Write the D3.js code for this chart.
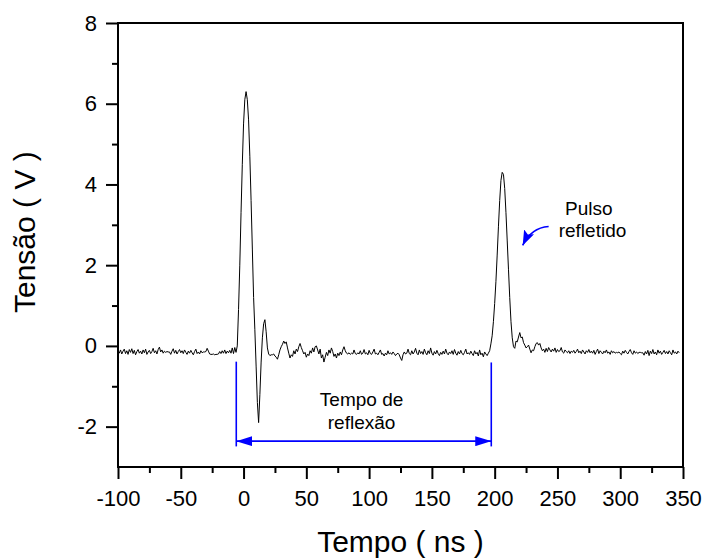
<!DOCTYPE html>
<html>
<head>
<meta charset="utf-8">
<script src="https://cdn.jsdelivr.net/npm/d3@7"></script>
<style>
  body { margin: 0; background: #fff; }
  svg { font-family: 'Liberation Sans', Arial, sans-serif; }
  .eje text { font-size: 22px; fill: #000; }
  .eje line { stroke: #000; stroke-width: 2px; }
  .eje path { display: none; }
</style>
</head>
<body>
<div id="graf"></div>
<script>
// I. Dados
// linha de base antes do pulso: t = -100 .. -6 ns, passo 1 ns
baseAntes = [
  -0.12,-0.18,-0.10,-0.20,-0.13,-0.08,-0.19,-0.12,-0.21,-0.09,
  -0.16,-0.07,-0.19,-0.11,-0.22,-0.14,-0.09,-0.18,-0.13,-0.20,
  -0.10,-0.17,-0.08,-0.21,-0.15,-0.11,-0.19,-0.14,-0.06,-0.17,
  -0.12,-0.20,-0.09,-0.03,-0.15,-0.10,-0.18,-0.13,-0.16,-0.14,
  -0.15,-0.15,-0.21,-0.13,-0.07,-0.18,-0.11,-0.20,-0.14,-0.09,
  -0.17,-0.12,-0.19,-0.10,-0.16,-0.21,-0.13,-0.18,-0.11,-0.17,
  -0.22,-0.14,-0.08,-0.19,-0.15,-0.20,-0.12,-0.17,-0.15,-0.15,
  -0.14,-0.06,-0.13,-0.20,-0.21,-0.21,-0.20,-0.22,-0.21,-0.21,
  -0.20,-0.14,-0.19,-0.12,-0.18,-0.10,-0.19,-0.13,-0.17,-0.11,
  -0.18,-0.05,-0.19,-0.04,-0.16
]
// pulso incidente: t = -5 .. 22 ns
pulsoIncidente = [
  0.00, 0.90, 2.00, 3.30, 4.50, 5.50, 6.10, 6.30, 6.10, 5.60,
  4.70, 3.60, 2.40, 1.20, 0.40,-0.50,-1.40,-1.90,-1.20,-0.40,
  0.20, 0.55, 0.65, 0.35,-0.05,-0.20,-0.24,-0.22
]
// entre os pulsos: t = 23 .. 195 ns
baseMeio = [
  -0.22,-0.20,-0.25,-0.28,-0.33,-0.22,-0.10,-0.02, 0.04, 0.12,
   0.06, 0.10,-0.05,-0.18,-0.30,-0.22,-0.26,-0.12,-0.20,-0.08,
  -0.14,-0.02, 0.06,-0.04,-0.12,-0.20,-0.16,-0.28,-0.20,-0.24,
  -0.12,-0.18,-0.05,-0.15,-0.02, 0.00,-0.10,-0.20,-0.08,-0.30,
  -0.22,-0.40,-0.28,-0.16,-0.24,-0.10,-0.18,-0.05,-0.14,-0.26,
  -0.20,-0.30,-0.18,-0.24,-0.15,-0.22,-0.10,-0.02,-0.12,-0.18,
  -0.20,-0.17,-0.21,-0.18,-0.20,-0.10,-0.19,-0.21,-0.17,-0.20,
  -0.12,-0.21,-0.18,-0.09,-0.20,-0.17,-0.22,-0.11,-0.19,-0.21,
  -0.15,-0.08,-0.20,-0.18,-0.22,-0.16,-0.10,-0.21,-0.19,-0.25,
  -0.18,-0.22,-0.12,-0.20,-0.17,-0.21,-0.15,-0.19,-0.24,-0.20,
  -0.18,-0.22,-0.30,-0.36,-0.22,-0.15,-0.20,-0.18,-0.08,-0.19,
  -0.22,-0.12,-0.20,-0.15,-0.06,-0.18,-0.22,-0.10,-0.19,-0.14,
  -0.21,-0.08,-0.17,-0.22,-0.12,-0.19,-0.05,-0.18,-0.23,-0.14,
  -0.20,-0.11,-0.19,-0.24,-0.16,-0.21,-0.13,-0.20,-0.08,-0.18,
  -0.22,-0.15,-0.19,-0.12,-0.21,-0.09,-0.18,-0.23,-0.14,-0.20,
  -0.11,-0.19,-0.22,-0.16,-0.08,-0.20,-0.17,-0.21,-0.13,-0.19,
  -0.24,-0.12,-0.20,-0.16,-0.25,-0.10,-0.22,-0.18,-0.27,-0.15,
  -0.20,-0.24,-0.18
]
// pulso refletido: t = 196 .. 225 ns
pulsoRefletido = [
  -0.12, 0.05, 0.25, 0.60, 1.05, 1.60, 2.25, 2.95, 3.60, 4.10,
   4.30, 4.25, 3.90, 3.30, 2.60, 1.90, 1.20, 0.60, 0.20,-0.02,
  -0.06, 0.12, 0.10, 0.22, 0.33, 0.20, 0.22, 0.08, 0.02,-0.05
]
// depois do pulso refletido: t = 226 .. 347 ns
baseDepois = [
  -0.02, 0.02,-0.08,-0.17,-0.10,-0.12,-0.02, 0.06, 0.08, 0.02,
   0.06,-0.05,-0.12,-0.08,-0.16,-0.06,-0.14,-0.04,-0.10,-0.15,
  -0.08,-0.13,-0.05,-0.16,-0.09,-0.14,-0.12,-0.04,-0.15,-0.18,
  -0.10,-0.14,-0.17,-0.12,-0.19,-0.13,-0.16,-0.11,-0.18,-0.14,
  -0.08,-0.17,-0.13,-0.19,-0.10,-0.15,-0.20,-0.12,-0.16,-0.09,
  -0.17,-0.13,-0.18,-0.11,-0.21,-0.14,-0.08,-0.19,-0.12,-0.16,
  -0.20,-0.13,-0.17,-0.10,-0.18,-0.15,-0.21,-0.12,-0.17,-0.14,
  -0.18,-0.16,-0.17,-0.15,-0.19,-0.22,-0.13,-0.18,-0.11,-0.16,
  -0.20,-0.14,-0.09,-0.17,-0.21,-0.12,-0.18,-0.15,-0.19,-0.16,
  -0.16,-0.17,-0.17,-0.23,-0.14,-0.20,-0.11,-0.24,-0.13,-0.19,
  -0.09,-0.20,-0.15,-0.22,-0.10,-0.18,-0.13,-0.21,-0.16,-0.11,
  -0.19,-0.14,-0.20,-0.12,-0.17,-0.22,-0.10,-0.18,-0.15,-0.20,
  -0.13,-0.17
]
// inicio de cada trecho (ns), amostras a cada 1 ns
trechos = [
  { t0: -100, v: baseAntes },
  { t0: -5,   v: pulsoIncidente },
  { t0: 23,   v: baseMeio },
  { t0: 196,  v: pulsoRefletido },
  { t0: 226,  v: baseDepois }
]

ticksX = [-100, -50, 0, 50, 100, 150, 200, 250, 300, 350]
ticksXmenor = [-75, -25, 25, 75, 125, 175, 225, 275, 325]
ticksY = [-2, 0, 2, 4, 6, 8]
ticksYmenor = [-1, 1, 3, 5, 7]

// anotacoes (unidades dos dados)
inicioReflexao = -5.8
fimReflexao = 197.3
nivelSeta = -2.36

// II. Configuracao
ancho_total = 704
alto_total = 559
margins = { top: 23, left: 118, right: 21, bottom: 92 }
ancho = ancho_total - margins.left - margins.right
alto = alto_total - margins.top - margins.bottom

svg = d3.select('#graf').append('svg')
        .attr('width', ancho_total)
        .attr('height', alto_total)

g = svg.append('g')
       .attr('transform', `translate(${ margins.left }, ${ margins.top })`)

x = d3.scaleLinear().domain([-100, 350]).range([0, ancho])
y = d3.scaleLinear().domain([-3, 8]).range([alto, 0])

// marcadores de seta
defs = svg.append('defs')
defs.append('marker')
    .attr('id', 'seta')
    .attr('viewBox', '0 0 16 10')
    .attr('refX', 16).attr('refY', 5)
    .attr('markerWidth', 16).attr('markerHeight', 10)
    .attr('markerUnits', 'userSpaceOnUse')
    .attr('orient', 'auto-start-reverse')
  .append('path')
    .attr('d', 'M0,0 L16,5 L0,10 Z')
    .attr('fill', '#0000ff')
defs.append('marker')
    .attr('id', 'setaCurva')
    .attr('viewBox', '0 0 15 11')
    .attr('refX', 15).attr('refY', 5.5)
    .attr('markerWidth', 15).attr('markerHeight', 11)
    .attr('markerUnits', 'userSpaceOnUse')
    .attr('orient', 'auto')
  .append('path')
    .attr('d', 'M0,0 L15,5.5 L0,11 L3,5.5 Z')
    .attr('fill', '#0000ff')

// III. Eixos
yAxisGroup = g.append('g').attr('class', 'eje')
yAxisGroup.call(d3.axisLeft(y).tickValues(ticksY).tickSize(12).tickPadding(9)
            .tickFormat(d => String(d)))
g.append('g').attr('class', 'eje')
 .call(d3.axisLeft(y).tickValues(ticksYmenor).tickSize(6).tickFormat(''))

xAxisGroup = g.append('g').attr('class', 'eje')
              .attr('transform', `translate(0, ${ alto })`)
xAxisGroup.call(d3.axisBottom(x).tickValues(ticksX).tickSize(12).tickPadding(11)
            .tickFormat(d => String(d)))
g.append('g').attr('class', 'eje')
 .attr('transform', `translate(0, ${ alto })`)
 .call(d3.axisBottom(x).tickValues(ticksXmenor).tickSize(6).tickFormat(''))

// moldura
g.append('rect')
 .attr('width', ancho).attr('height', alto)
 .attr('fill', 'none').attr('stroke', '#000').attr('stroke-width', 2)

// IV. Curva
pontos = []
trechos.forEach(tr => {
  tr.v.forEach((v, i) => pontos.push({ t: tr.t0 + i, v: v }))
})

linha = d3.line().x(d => x(d.t)).y(d => y(d.v))
g.append('path')
 .datum(pontos)
 .attr('d', linha)
 .attr('fill', 'none')
 .attr('stroke', '#000')
 .attr('stroke-width', 1)

// V. Anotacoes
azul = '#0000ff'
ga = g.append('g').attr('stroke', azul).attr('stroke-width', 1.6)
ga.append('line')
  .attr('x1', x(inicioReflexao)).attr('x2', x(inicioReflexao))
  .attr('y1', y(-0.39)).attr('y2', y(-2.49))
ga.append('line')
  .attr('x1', x(fimReflexao)).attr('x2', x(fimReflexao))
  .attr('y1', y(-0.41)).attr('y2', y(-2.49))
ga.append('line')
  .attr('x1', x(inicioReflexao)).attr('x2', x(fimReflexao))
  .attr('y1', y(nivelSeta)).attr('y2', y(nivelSeta))
  .attr('marker-start', 'url(#seta)')
  .attr('marker-end', 'url(#seta)')

ga.append('path')
  .attr('d', `M${ x(243) },${ y(2.96) } Q${ x(229) },${ y(2.93) } ${ x(222.3) },${ y(2.49) }`)
  .attr('fill', 'none')
  .attr('marker-end', 'url(#setaCurva)')

texto = g.append('g').style('font-size', '19px').attr('fill', '#000')
texto.append('text')
     .attr('x', x(94)).attr('y', y(-1.5))
     .attr('text-anchor', 'middle')
     .text('Tempo de')
texto.append('text')
     .attr('x', x(94)).attr('y', y(-2.07))
     .attr('text-anchor', 'middle')
     .text('reflexão')
texto.append('text')
     .attr('x', x(256)).attr('y', y(3.25))
     .text('Pulso')
texto.append('text')
     .attr('x', x(251)).attr('y', y(2.71))
     .text('refletido')

// titulos dos eixos
svg.append('text')
   .attr('x', margins.left + ancho / 2)
   .attr('y', 552)
   .attr('text-anchor', 'middle')
   .style('font-size', '30px')
   .text('Tempo ( ns )')

svg.append('text')
   .attr('transform', 'translate(35, 313) rotate(-90)')
   .attr('text-anchor', 'start')
   .style('font-size', '30px')
   .text('Tensão ( V )')
</script>
</body>
</html>
